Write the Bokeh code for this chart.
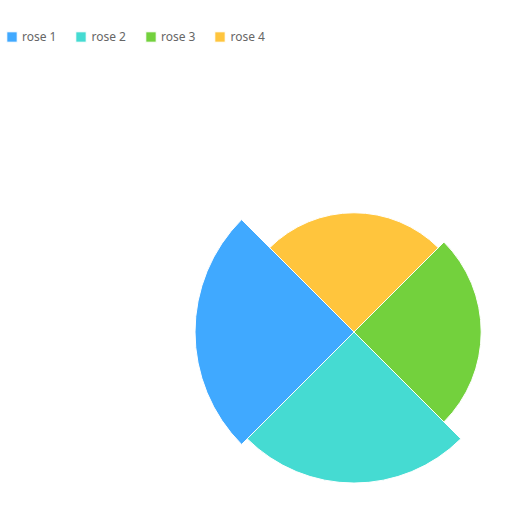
import numpy as np
from bokeh.plotting import figure
from bokeh.models import ColumnDataSource, Legend, LegendItem, Range1d
from bokeh.embed import file_html
from bokeh.resources import INLINE

categories = ["rose 1", "rose 2", "rose 3", "rose 4"]
values = [40, 38, 32, 30]
colors = ["#40A9FF", "#45DBD2", "#73D13D", "#FFC53D"]

W, H = 531, 510
cx, cy = 353.5, 178.5
rmax = 159.0

n = len(values)
step = 2 * np.pi / n
start = [np.deg2rad(135) + i * step for i in range(n)]
end = [s + step for s in start]
radius = [v / max(values) * rmax for v in values]

p = figure(width=W, height=H, output_backend="svg", toolbar_location=None,
           x_range=Range1d(0, W), y_range=Range1d(0, H), min_border=0)
p.axis.visible = False
p.xgrid.visible = False
p.ygrid.visible = False
p.outline_line_color = None

renderers = []
for i in range(n):
    src = ColumnDataSource(dict(x=[cx], y=[cy], r=[radius[i]], s=[start[i]], e=[end[i]]))
    r = p.wedge(x="x", y="y", radius="r", start_angle="s", end_angle="e", source=src,
                fill_color=colors[i], line_color="white", line_width=1)
    renderers.append(r)

legend = Legend(items=[LegendItem(label=categories[i], renderers=[renderers[i]]) for i in range(n)],
                orientation="horizontal", location=(5, 464),
                glyph_width=13, glyph_height=13, label_standoff=4, spacing=18,
                padding=0, margin=0, border_line_color=None, background_fill_alpha=0,
                label_text_font="Noto Sans", label_text_font_size="12px",
                label_text_color="#666666", label_height=20)
p.add_layout(legend, "center")

open("out.html", "w").write(file_html(p, INLINE))
